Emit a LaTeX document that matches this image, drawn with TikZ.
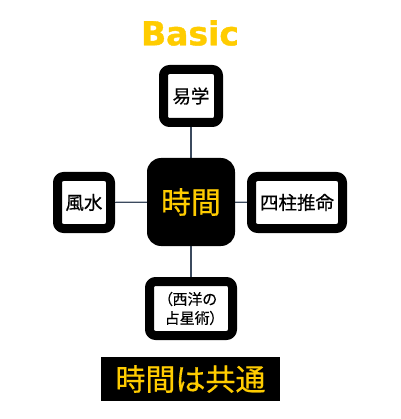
\documentclass[tikz,border=0pt]{standalone}
\usepackage{fontspec}
\setmainfont{Noto Sans CJK JP}[FakeBold=0.4, RawFeature=+palt]
\newfontfamily\titlefont{DejaVu Sans}[FakeBold=1.2]
\usetikzlibrary{backgrounds}
\definecolor{gold}{HTML}{FFCC00}
\definecolor{linkgray}{HTML}{3B4A5E}

\begin{document}
\begin{tikzpicture}[x=1pt, y=-1pt, line cap=round, line join=round,
  framebox/.style={draw=black, line width=9pt, fill=white, rounded corners=6pt,
    inner sep=0pt, align=center, font=\fontsize{18.5}{22}\selectfont},
  link/.style={draw=linkgray, line width=1.2pt}]
  \useasboundingbox (0,0) rectangle (400,419);

  % title
  \node[font=\titlefont\bfseries\fontsize{33}{36}\selectfont, text=gold] (title) at (190,33) {Basic};

  % centre
  \node[fill=black, rounded corners=14pt, minimum width=88pt, minimum height=88pt,
    text=gold, font=\fontsize{30}{34}\selectfont] (jikan) at (191,202) {時間};

  % the four boxes
  \node[framebox, minimum width=55pt, minimum height=53pt] (ekigaku) at (191,96) {易学};
  \node[framebox, minimum width=53pt, minimum height=52pt] (fusui) at (84,202.5) {風水};
  \node[framebox, minimum width=91pt, minimum height=52pt] (shichu) at (297,202.5) {四柱推命};
  \node[framebox, minimum width=83pt, minimum height=54pt, font=\fontsize{15}{19}\selectfont]
    (seiyo) at (191,308.5) {（西洋の\\占星術）};

  % connectors
  \begin{scope}[on background layer]
    \draw[link] (jikan) -- (ekigaku);
    \draw[link] (jikan) -- (fusui);
    \draw[link] (jikan) -- (shichu);
    \draw[link] (jikan) -- (seiyo);
  \end{scope}

  % bottom label
  \node[fill=black, minimum width=179pt, minimum height=44pt, inner sep=0pt,
    text=gold, font=\fontsize{30}{32}\selectfont] (kyotsu) at (190.5,379) {時間は共通};
\end{tikzpicture}
\end{document}
